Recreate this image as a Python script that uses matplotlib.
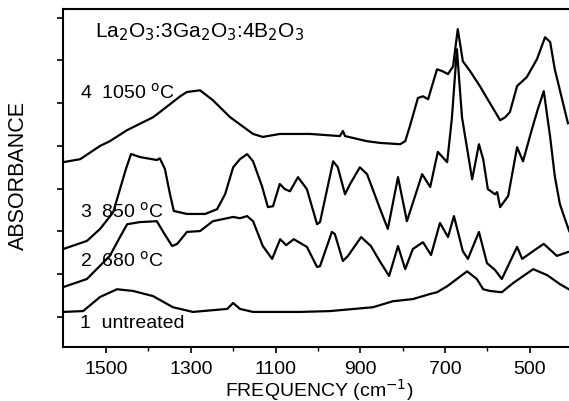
import matplotlib
matplotlib.use("Agg")
import matplotlib.pyplot as plt
import numpy as np

plt.rcParams['font.family'] = ['Liberation Sans', 'DejaVu Sans']

# spectra: frequency (cm-1) and stacked absorbance (arb. units)
freq_1050 = [1601, 1561, 1514, 1491, 1450, 1389, 1373, 1325, 1309, 1278, 1248, 1207,
             1153, 1130, 1090, 1019, 948, 941, 936, 884, 853, 806, 794, 783, 764, 752,
             740, 719, 707, 693, 681, 670, 658, 641, 618, 594, 570, 558, 547, 530, 507,
             483, 464, 452, 441, 410]
abs_1050 = [3.62, 3.69, 4.00, 4.11, 4.37, 4.67, 4.79, 5.16, 5.26, 5.30, 5.07, 4.67,
            4.28, 4.21, 4.28, 4.28, 4.23, 4.35, 4.23, 4.11, 4.07, 4.04, 4.11, 4.46, 5.12,
            5.16, 5.09, 5.79, 5.75, 5.68, 5.86, 6.73, 5.98, 5.75, 5.40, 5.00, 4.60, 4.67,
            4.79, 5.40, 5.61, 6.03, 6.54, 6.43, 5.79, 4.53]

freq_850 = [1601, 1545, 1514, 1483, 1467, 1453, 1441, 1420, 1380, 1373, 1361, 1349,
            1340, 1309, 1266, 1238, 1219, 1200, 1184, 1167, 1153, 1132, 1118, 1106, 1090,
            1078, 1066, 1047, 1026, 1002, 995, 964, 953, 936, 924, 901, 884, 853, 835,
            811, 790, 754, 735, 717, 695, 684, 672, 660, 636, 620, 610, 599, 582, 577,
            570, 551, 530, 516, 495, 481, 467, 452, 441, 429, 417, 407]
abs_850 = [1.59, 1.78, 2.06, 2.45, 2.99, 3.46, 3.81, 3.74, 3.67, 3.71, 3.46, 2.87,
           2.48, 2.41, 2.41, 2.52, 2.87, 3.50, 3.69, 3.81, 3.64, 3.06, 2.57, 2.59, 3.11,
           2.99, 2.94, 3.27, 2.99, 2.17, 2.22, 3.64, 3.50, 2.87, 3.11, 3.50, 3.34, 2.52,
           2.06, 3.27, 2.24, 3.34, 3.04, 3.86, 3.62, 4.63, 6.26, 4.67, 3.22, 4.04, 3.69,
           2.99, 2.87, 2.92, 2.57, 2.83, 3.97, 3.64, 4.39, 4.86, 5.28, 4.21, 3.29, 2.64,
           2.29, 2.01]

freq_680 = [1601, 1545, 1491, 1467, 1450, 1420, 1380, 1365, 1344, 1332, 1309, 1278,
            1248, 1200, 1184, 1167, 1153, 1130, 1108, 1089, 1075, 1057, 1026, 1002, 995,
            967, 960, 941, 929, 898, 875, 853, 832, 811, 794, 776, 752, 733, 712, 693,
            679, 658, 646, 620, 601, 582, 566, 530, 518, 488, 467, 436, 410]
abs_680 = [0.70, 0.89, 1.43, 1.87, 2.17, 2.22, 2.24, 1.99, 1.66, 1.71, 1.99, 2.01,
           2.24, 2.34, 2.31, 2.36, 2.24, 1.66, 1.36, 1.82, 1.68, 1.82, 1.64, 1.17, 1.19,
           1.99, 1.94, 1.31, 1.43, 1.87, 1.66, 1.29, 0.96, 1.66, 1.12, 1.59, 1.75, 1.45,
           2.20, 1.87, 2.36, 1.54, 1.36, 1.99, 1.26, 1.10, 0.89, 1.64, 1.36, 1.57, 1.71,
           1.43, 1.52]

freq_raw = [1601, 1554, 1514, 1474, 1436, 1389, 1342, 1295, 1214, 1200, 1184, 1153,
            1042, 971, 870, 823, 776, 735, 719, 695, 672, 648, 625, 610, 594, 566, 540,
            492, 459, 429, 408]
abs_raw = [0.12, 0.14, 0.47, 0.65, 0.61, 0.49, 0.23, 0.12, 0.19, 0.33, 0.19, 0.12,
           0.12, 0.14, 0.23, 0.37, 0.42, 0.54, 0.58, 0.72, 0.89, 1.07, 0.89, 0.65, 0.61,
           0.58, 0.79, 1.12, 0.98, 0.77, 0.65]

labels = ["1  untreated", "2  680 $^{\\rm o}$C", "3  850 $^{\\rm o}$C", "4  1050 $^{\\rm o}$C"]
label_y = [-0.12, 1.33, 2.48, 5.26]

fig = plt.figure(figsize=(5.69, 4.02), dpi=100)
ax = fig.add_axes([0.1107, 0.1343, 0.8893, 0.8408])

for f, a in [(freq_raw, abs_raw), (freq_680, abs_680), (freq_850, abs_850), (freq_1050, abs_1050)]:
    ax.plot(f, a, color='black', lw=1.6, solid_joinstyle='round')

for lab, y in zip(labels, label_y):
    ax.text(1561, y, lab, fontsize=14, va='center', ha='left')

ax.text(1526, 6.68, "La$_2$O$_3$:3Ga$_2$O$_3$:4B$_2$O$_3$", fontsize=15,
        va='center', ha='left')

ax.set_xlim(1601.5, 407.5)
ax.set_ylim(-0.7, 7.2)
ax.set_xticks(np.arange(1500, 400, -200))
ax.set_xticks(np.arange(1400, 500, -200), minor=True)
ax.set_yticks(np.arange(0, 8))
ax.set_yticklabels([])
ax.tick_params(axis='both', which='major', direction='out', length=4, width=1.2,
               labelsize=14, pad=5)
ax.tick_params(axis='x', which='minor', direction='out', length=3, width=1.0)
for s in ['left', 'bottom', 'top']:
    ax.spines[s].set_linewidth(1.5)
ax.spines['right'].set_visible(False)

ax.set_xlabel("FREQUENCY (cm$^{-1}$)", fontsize=14, va='baseline')
ax.xaxis.set_label_coords(0.506, -0.143)
ax.set_ylabel("ABSORBANCE", fontsize=15.5)
ax.yaxis.set_label_coords(-0.068, 0.51)

fig.savefig("out.png", dpi=100)
